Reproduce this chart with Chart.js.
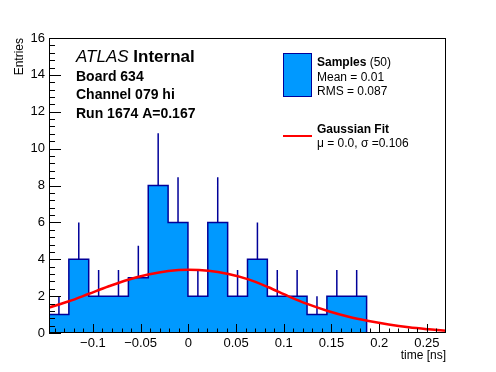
<!DOCTYPE html>
<html>
<head>
<meta charset="utf-8">
<script src="https://cdn.jsdelivr.net/npm/chart.js@4"></script>
<style>
    html, body { margin: 0; padding: 0; background: #fff; }
    #wrap { width: 496px; height: 372px; }
</style>
</head>
<body>
<div id="wrap"><canvas id="chart" width="496" height="372"></canvas></div>
<script>
// histogram binning and bin contents
const xMin = -0.146;
const xMax = 0.27;
const nBins = 20;
const counts = [1, 4, 2, 2, 3, 8, 6, 2, 6, 2, 4, 2, 2, 1, 2, 2, 0, 0, 0, 0];

// gaussian fit curve
const fitX = [-0.146, -0.125, -0.104, -0.084, -0.063, -0.042, -0.021, 0.0, 0.021, 0.042, 0.063, 0.084, 0.105, 0.126, 0.147, 0.168, 0.189, 0.21, 0.231, 0.252, 0.27];
const fitY = [1.38, 1.72, 2.13, 2.52, 2.89, 3.17, 3.36, 3.43, 3.38, 3.2, 2.91, 2.48, 1.99, 1.55, 1.18, 0.88, 0.65, 0.46, 0.31, 0.2, 0.12];

// axes
const xTicks = [-0.1, -0.05, 0, 0.05, 0.1, 0.15, 0.2, 0.25];
const yTicks = [0, 2, 4, 6, 8, 10, 12, 14, 16];
const yMax = 16;

// text
const infoLines = ['Board 634', 'Channel 079 hi', 'Run 1674 A=0.167'];
const nSamples = 50;
const statLines = ['Mean = 0.01', 'RMS = 0.087'];
const fitLabel = 'Gaussian Fit';
const fitParams = 'μ = 0.0, σ =0.106';

const FONT = '"Liberation Sans", Arial, Helvetica, sans-serif';
const HIST_FILL = '#0099ff';
const HIST_LINE = '#000099';

(function () {
    const binWidth = (xMax - xMin) / nBins;

    const histData = counts.map((c, i) => ({ x: xMin + i * binWidth, y: c }));
    histData.push({ x: xMax, y: 0 });

    // vertical error bars, upper half only (lower half sits inside the fill)
    const errData = [];
    counts.forEach((c, i) => {
        if (c <= 0) return;
        const xc = xMin + (i + 0.5) * binWidth;
        errData.push({ x: xc, y: c }, { x: xc, y: c + Math.sqrt(c) }, { x: xc, y: null });
    });

    const fitData = fitX.map((x, i) => ({ x, y: fitY[i] }));

    const fmtX = (v) => {
        if (Math.abs(v) < 1e-9) return '0';
        const s = String(Math.round(v * 1000) / 1000);
        return v < 0 ? '\u2212' + s.slice(1) : s;
    };

    const rootFrame = {
        id: 'rootFrame',
        afterDatasetsDraw(chart) {
            const { ctx, chartArea: a, scales } = chart;
            const xs = scales.x, ys = scales.y;
            ctx.save();
            ctx.strokeStyle = '#000';
            ctx.lineWidth = 1;
            ctx.strokeRect(a.left + 0.5, a.top + 0.5, a.right - a.left - 1, a.bottom - a.top - 1);

            ctx.beginPath();
            // y ticks, inward from the left axis
            for (let k = 0; k <= yMax / 0.4 + 1e-6; k++) {
                const v = k * 0.4;
                const major = k % 5 === 0;
                const py = Math.round(ys.getPixelForValue(v)) + 0.5;
                ctx.moveTo(a.left, py);
                ctx.lineTo(a.left + (major ? 12 : 6), py);
            }
            // x ticks, inward from the bottom axis
            for (let k = -14; k <= 26; k++) {
                const v = k * 0.01;
                const major = k % 5 === 0;
                const px = Math.round(xs.getPixelForValue(v)) + 0.5;
                ctx.moveTo(px, a.bottom);
                ctx.lineTo(px, a.bottom - (major ? 9 : 4.5));
            }
            ctx.stroke();
            ctx.restore();
        },
        afterDraw(chart) {
            const { ctx, chartArea: a } = chart;
            ctx.save();
            ctx.fillStyle = '#000';
            ctx.textBaseline = 'alphabetic';

            // axis titles
            ctx.font = `12px ${FONT}`;
            ctx.textAlign = 'right';
            ctx.fillText('time [ns]', a.right, 359);
            ctx.save();
            ctx.translate(23, a.top);
            ctx.rotate(-Math.PI / 2);
            ctx.fillText('Entries', 0, 0);
            ctx.restore();

            // ATLAS label block
            ctx.textAlign = 'left';
            ctx.font = `italic 17px ${FONT}`;
            ctx.fillText('ATLAS', 76, 62);
            const w = ctx.measureText('ATLAS ').width;
            ctx.font = `bold 17px ${FONT}`;
            ctx.fillText('Internal', 76 + w, 62);
            ctx.font = `bold 14px ${FONT}`;
            infoLines.forEach((t, i) => ctx.fillText(t, 76, 81 + i * 18.3));

            // legend
            ctx.fillStyle = HIST_FILL;
            ctx.fillRect(283, 53, 29, 44);
            ctx.strokeStyle = HIST_LINE;
            ctx.lineWidth = 1;
            ctx.strokeRect(283.5, 53.5, 28, 43);

            ctx.fillStyle = '#000';
            ctx.font = `bold 12px ${FONT}`;
            ctx.fillText('Samples', 317, 66);
            const sw = ctx.measureText('Samples').width;
            ctx.font = `12px ${FONT}`;
            ctx.fillText(` (${nSamples})`, 317 + sw, 66);
            statLines.forEach((t, i) => ctx.fillText(t, 317, 80.5 + i * 14));

            ctx.strokeStyle = '#ff0000';
            ctx.lineWidth = 2;
            ctx.beginPath();
            ctx.moveTo(283, 136);
            ctx.lineTo(312, 136);
            ctx.stroke();

            ctx.font = `bold 12px ${FONT}`;
            ctx.fillText(fitLabel, 317, 133);
            ctx.font = `12px ${FONT}`;
            ctx.fillText(fitParams, 317, 146.5);
            ctx.restore();
        }
    };

    new Chart(document.getElementById('chart'), {
        type: 'line',
        data: {
            datasets: [
                {
                    label: 'Gaussian Fit',
                    data: fitData,
                    borderColor: '#ff0000',
                    borderWidth: 2.5,
                    pointRadius: 0,
                    tension: 0.4,
                    cubicInterpolationMode: 'monotone',
                    fill: false,
                    order: 0
                },
                {
                    label: 'errors',
                    data: errData,
                    borderColor: HIST_LINE,
                    borderWidth: 1.5,
                    pointRadius: 0,
                    spanGaps: false,
                    fill: false,
                    order: 1
                },
                {
                    label: 'Samples',
                    data: histData,
                    stepped: 'before',
                    borderColor: HIST_LINE,
                    borderWidth: 1.5,
                    backgroundColor: HIST_FILL,
                    pointRadius: 0,
                    fill: 'origin',
                    order: 2
                }
            ]
        },
        options: {
            responsive: false,
            animation: false,
            events: [],
            layout: { padding: { left: 0, top: 38, right: 50, bottom: 0 } },
            plugins: { legend: { display: false }, tooltip: { enabled: false } },
            scales: {
                x: {
                    type: 'linear',
                    min: xMin,
                    max: xMax,
                    afterBuildTicks: (s) => { s.ticks = xTicks.map((v) => ({ value: v })); },
                    afterFit: (s) => { s.height = 39; },
                    grid: { display: false, drawTicks: false, tickLength: 0 },
                    border: { display: false },
                    ticks: {
                        autoSkip: false,
                        maxRotation: 0,
                        padding: 3,
                        color: '#000',
                        font: { family: FONT, size: 13 },
                        callback: (v) => fmtX(v)
                    }
                },
                y: {
                    type: 'linear',
                    min: 0,
                    max: yMax,
                    afterBuildTicks: (s) => { s.ticks = yTicks.map((v) => ({ value: v })); },
                    afterFit: (s) => { s.width = 49; },
                    grid: { display: false, drawTicks: false, tickLength: 0 },
                    border: { display: false },
                    ticks: {
                        padding: 4,
                        color: '#000',
                        font: { family: FONT, size: 13 }
                    }
                }
            }
        },
        plugins: [rootFrame]
    });
})();
</script>
</body>
</html>
